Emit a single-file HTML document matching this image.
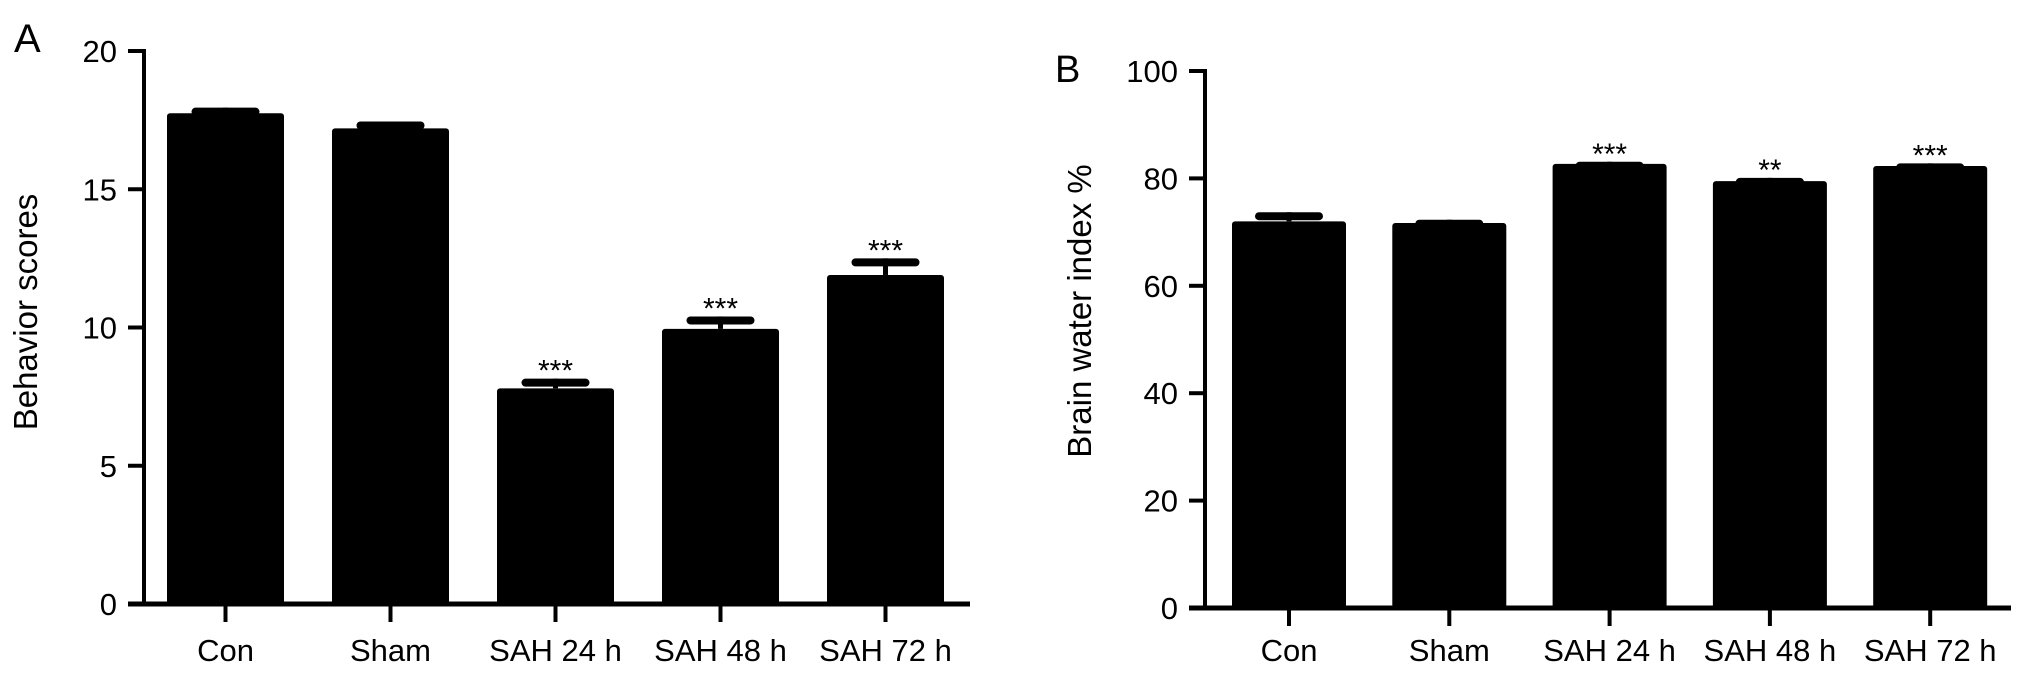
<!DOCTYPE html>
<html><head><meta charset="utf-8"><style>
html,body{margin:0;padding:0;background:#fff;}
svg{display:block;font-family:"Liberation Sans",Arial,sans-serif;}
</style></head><body>
<svg id="chart" width="2032" height="674" viewBox="0 0 2032 674">
<text x="14" y="52" font-size="40">A</text>
<text x="1055" y="82" font-size="38">B</text>
<text transform="translate(37,312) rotate(-90)" text-anchor="middle" font-size="33">Behavior scores</text>
<text transform="translate(1091,311) rotate(-90)" text-anchor="middle" font-size="33">Brain water index %</text>
<g id="ga"></g>
<g id="gb"></g>
</svg>
<script>
const categories = ["Con","Sham","SAH 24 h","SAH 48 h","SAH 72 h"];
const scoresA = [17.75, 17.2, 7.8, 9.95, 11.9];
const errA = [0.2, 0.25, 0.35, 0.45, 0.6];
const starsA = ["","","***","***","***"];
const ticksA = [0,5,10,15,20];
const waterB = [72.0, 71.7, 82.7, 79.5, 82.3];
const errB = [1.7, 0.6, 0.4, 0.6, 0.5];
const starsB = ["","","***","**","***"];
const ticksB = [0,20,40,60,80,100];

const NS="http://www.w3.org/2000/svg";
function mk(tag, attrs, parent){const e=document.createElementNS(NS,tag);for(const k in attrs)e.setAttribute(k,attrs[k]);parent.appendChild(e);return e;}

function panel(g, cfg, vals, errs, stars, ticks, pfx){
  const y=v=>cfg.y0-(v-cfg.min)/(cfg.max-cfg.min)*(cfg.y0-cfg.yTop);
  const x=i=>cfg.x1+i*cfg.pitch;
  vals.forEach((v,i)=>{
    const cx=x(i)+cfg.bw/2, top=y(v), et=y(v+errs[i]);
    const eline=mk('line',{x1:cx,x2:cx,y1:top,y2:et,stroke:'#000','stroke-width':5},g);
    
    
    const cap=mk('line',{x1:cx-30,x2:cx+30,y1:et+4,y2:et+4,stroke:'#000','stroke-width':8,'stroke-linecap':'round'},g);
    
    
    const r=mk('rect',{x:x(i),y:top,width:cfg.bw,height:cfg.y0-top,fill:'#000',rx:3},g);
    
    
    if(stars[i]){
      const s=mk('text',{x:cx,y:et+2,'text-anchor':'middle','font-size':30},g);
      s.textContent=stars[i];
      
      
    }
    const tk=mk('line',{x1:cx,x2:cx,y1:cfg.y0,y2:cfg.y0+18,stroke:'#000','stroke-width':4},g);
    
    
    const lb=mk('text',{x:cx,y:661,'text-anchor':'middle','font-size':31},g);
    lb.textContent=categories[i];
    
    
  });
  const ya=mk('line',{x1:cfg.ax,x2:cfg.ax,y1:y(cfg.max)-2,y2:cfg.y0+2,stroke:'#000','stroke-width':4},g);
  
  
  const xa=mk('line',{x1:cfg.ax-16,x2:cfg.xEnd,y1:cfg.y0,y2:cfg.y0,stroke:'#000','stroke-width':5},g);
  
  
  ticks.forEach(t=>{
    const l=mk('line',{x1:cfg.ax-16,x2:cfg.ax,y1:y(t),y2:y(t),stroke:'#000','stroke-width':4},g);
    
    
    const tx=mk('text',{x:cfg.ax-27,y:y(t)+11,'text-anchor':'end','font-size':31},g);
    tx.textContent=t;
    
    
  });
}
panel(document.getElementById('ga'),{min:0,max:20,y0:604,yTop:51,ax:144,x1:167,pitch:165,bw:117,xEnd:970},scoresA,errA,starsA,ticksA,'a-');
panel(document.getElementById('gb'),{min:0,max:100,y0:608,yTop:71,ax:1205,x1:1232,pitch:160.3,bw:114,xEnd:2011},waterB,errB,starsB,ticksB,'b-');
</script>
</body></html>
